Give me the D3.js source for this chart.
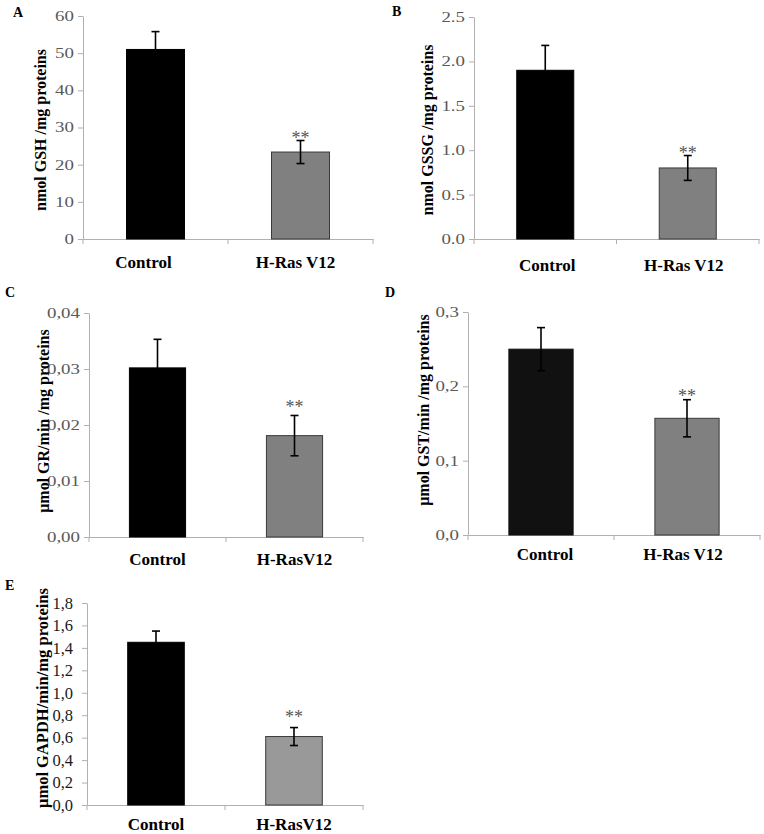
<!DOCTYPE html>
<html>
<head>
<meta charset="utf-8">
<script src="https://cdn.jsdelivr.net/npm/d3@7"></script>
<style>
  html, body { margin: 0; padding: 0; background: #fff; }
  svg { display: block; }
  text { font-family: "Liberation Serif", "Times New Roman", serif; }
</style>
</head>
<body>
<svg id="chart" width="764" height="834"></svg>
<script>
// ---------------- DATA ----------------
const panelLetters = ["A", "B", "C", "D", "E"];

const catA = ["Control", "H-Ras V12"];
const catB = ["Control", "H-Ras V12"];
const catC = ["Control", "H-RasV12"];
const catD = ["Control", "H-Ras V12"];
const catE = ["Control", "H-RasV12"];

const yLabelA = "nmol GSH /mg proteins";
const yLabelB = "nmol GSSG /mg proteins";
const yLabelC = "\u03bcmol GR/min /mg proteins";
const yLabelD = "\u03bcmol GST/min /mg proteins";
const yLabelE = "\u03bcmol GAPDH/min/mg proteins";

const gshMean = [51.0, 23.4];
const gshErr = [4.8, 3.1];
const gssgMean = [1.90, 0.80];
const gssgErr = [0.28, 0.14];
const grMean = [0.0302, 0.0181];
const grErr = [0.0051, 0.0036];
const gstMean = [0.250, 0.157];
const gstErr = [0.029, 0.025];
const gapdhMean = [1.45, 0.61];
const gapdhErr = [0.10, 0.08];

const sigMarks = ["", "**"];

const ticksA = [0, 10, 20, 30, 40, 50, 60];
const tickLabelsA = ["0", "10", "20", "30", "40", "50", "60"];
const ticksB = [0, 0.5, 1.0, 1.5, 2.0, 2.5];
const tickLabelsB = ["0.0", "0.5", "1.0", "1.5", "2.0", "2.5"];
const ticksC = [0, 0.01, 0.02, 0.03, 0.04];
const tickLabelsC = ["0,00", "0,01", "0,02", "0,03", "0,04"];
const ticksD = [0, 0.1, 0.2, 0.3];
const tickLabelsD = ["0,0", "0,1", "0,2", "0,3"];
const ticksE = [0, 0.2, 0.4, 0.6, 0.8, 1.0, 1.2, 1.4, 1.6, 1.8];
const tickLabelsE = ["0,0", "0,2", "0,4", "0,6", "0,8", "1,0", "1,2", "1,4", "1,6", "1,8"];

// ---------------- LAYOUT / STYLE ----------------
const panels = [
  { letter: panelLetters[0], cats: catA, mean: gshMean, err: gshErr, ticks: ticksA, tickLabels: tickLabelsA, yLabel: yLabelA,
    x0: 83, x1: 373, yTop: 16, yBot: 239, letterPos: [13, 17], yLabelPos: [40, 130], catBase: 268, catDx: [-12, -5],
    colors: ["#000000", "#808080"], tickFont: 14, tickScale: 1.35, tickColor: "#595959", tickGap: 9, starGap: 1, yLabelFont: 16, pad: 0.6 },
  { letter: panelLetters[1], cats: catB, mean: gssgMean, err: gssgErr, ticks: ticksB, tickLabels: tickLabelsB, yLabel: yLabelB,
    x0: 474, x1: 759, yTop: 17, yBot: 239, letterPos: [392, 16], yLabelPos: [427, 130], catBase: 271, catDx: [2, -4],
    colors: ["#000000", "#808080"], tickFont: 14, tickScale: 1.35, tickColor: "#595959", tickGap: 9, starGap: 1, yLabelFont: 16, pad: 0.6 },
  { letter: panelLetters[2], cats: catC, mean: grMean, err: grErr, ticks: ticksC, tickLabels: tickLabelsC, yLabel: yLabelC,
    x0: 89, x1: 363, yTop: 313, yBot: 537, letterPos: [5, 297], yLabelPos: [43, 421], catBase: 565, catDx: [0, 0],
    colors: ["#000000", "#808080"], tickFont: 14, tickScale: 1.35, tickColor: "#595959", tickGap: 9, starGap: 6, yLabelFont: 16, pad: 0.59 },
  { letter: panelLetters[3], cats: catD, mean: gstMean, err: gstErr, ticks: ticksD, tickLabels: tickLabelsD, yLabel: yLabelD,
    x0: 468, x1: 760, yTop: 312, yBot: 535, letterPos: [385, 297], yLabelPos: [423, 410], catBase: 560, catDx: [4, -4],
    colors: ["#111111", "#808080"], tickFont: 14, tickScale: 1.35, tickColor: "#595959", tickGap: 9, starGap: 2, yLabelFont: 16, pad: 0.56 },
  { letter: panelLetters[4], cats: catE, mean: gapdhMean, err: gapdhErr, ticks: ticksE, tickLabels: tickLabelsE, yLabel: yLabelE,
    x0: 87, x1: 363, yTop: 603, yBot: 805, letterPos: [5, 590], yLabelPos: [42, 698], catBase: 830, catDx: [0, 0],
    colors: ["#000000", "#999999"], tickFont: 16.5, tickScale: 1.0, tickColor: "#1a1a1a", tickGap: 14, starGap: 9, yLabelFont: 16.5, pad: 0.59 }
];

const svg = d3.select("#chart");

panels.forEach(p => {
  const g = svg.append("g");
  const y = d3.scaleLinear().domain([0, p.ticks[p.ticks.length - 1]]).range([p.yBot, p.yTop]);
  const x = d3.scaleBand().domain(p.cats).range([p.x0, p.x1]).paddingInner(p.pad).paddingOuter(p.pad / 2);

  // panel letter
  g.append("text").attr("x", p.letterPos[0]).attr("y", p.letterPos[1])
    .attr("font-size", 14).attr("font-weight", "bold").attr("fill", "#000").text(p.letter);

  // y axis
  const yAxis = d3.axisLeft(y).tickValues(p.ticks).tickFormat((d, i) => p.tickLabels[i])
    .tickSizeInner(5).tickSizeOuter(0).tickPadding(0);
  const ya = g.append("g").attr("transform", `translate(${p.x0},0)`).call(yAxis)
    .attr("font-family", "'Liberation Serif', serif");
  ya.select(".domain").attr("stroke", "#b0b0b0").attr("stroke-width", 1);
  ya.selectAll(".tick line").attr("stroke", "#b0b0b0");
  ya.selectAll(".tick text")
    .attr("font-size", p.tickFont)
    .attr("fill", p.tickColor)
    .attr("x", -p.tickGap / p.tickScale)
    .attr("transform", `scale(${p.tickScale},1)`);

  // x axis
  const xAxis = d3.axisBottom(x).tickSize(0).tickPadding(0);
  const xa = g.append("g").attr("transform", `translate(0,${p.yBot})`).call(xAxis)
    .attr("font-family", "'Liberation Serif', serif");
  xa.select(".domain").attr("stroke", "#b0b0b0").attr("stroke-width", 1);
  xa.selectAll(".tick text")
    .attr("font-size", 17).attr("font-weight", "bold").attr("fill", "#000")
    .attr("dy", 0)
    .attr("y", p.catBase - p.yBot)
    .attr("dx", (d, i) => p.catDx[i]);
  // category boundary ticks
  const step = x.step();
  const bounds = [0, 1, 2].map(i => x(p.cats[0]) - step * p.pad / 2 + i * step);
  g.selectAll(null).data(bounds).enter().append("line")
    .attr("x1", d => d).attr("x2", d => d)
    .attr("y1", p.yBot).attr("y2", p.yBot + 5)
    .attr("stroke", "#b0b0b0");

  // bars
  const data = p.cats.map((c, i) => ({ c, m: p.mean[i], e: p.err[i], col: p.colors[i], sig: sigMarks[i] }));
  g.selectAll("rect.bar").data(data).enter().append("rect")
    .attr("class", "bar")
    .attr("x", d => x(d.c)).attr("width", x.bandwidth())
    .attr("y", d => y(d.m)).attr("height", d => y(0) - y(d.m))
    .attr("fill", d => d.col)
    .attr("stroke", d => d.col === "#000000" || d.col === "#111111" ? d.col : "#3a3a3a")
    .attr("stroke-width", 1);

  // error bars
  const cap = 4;
  data.forEach(d => {
    const cx = x(d.c) + x.bandwidth() / 2;
    const top = y(d.m + d.e), bot = y(d.m - d.e);
    g.append("line").attr("x1", cx).attr("x2", cx).attr("y1", top).attr("y2", bot)
      .attr("stroke", "#000").attr("stroke-width", 1.6);
    [top, bot].forEach(yy => g.append("line").attr("x1", cx - cap).attr("x2", cx + cap)
      .attr("y1", yy).attr("y2", yy).attr("stroke", "#000").attr("stroke-width", 1.6));
    if (d.sig) {
      g.append("text").attr("x", cx).attr("y", top - p.starGap + 4)
        .attr("text-anchor", "middle").attr("font-size", 18)
        .attr("fill", "#555").text(d.sig);
    }
  });

  // y label
  g.append("text")
    .attr("transform", `translate(${p.yLabelPos[0]},${p.yLabelPos[1]}) rotate(-90)`)
    .attr("text-anchor", "middle").attr("dy", "0.35em")
    .attr("font-size", p.yLabelFont).attr("font-weight", "bold").attr("fill", "#000")
    .text(p.yLabel);
});
</script>
</body>
</html>
